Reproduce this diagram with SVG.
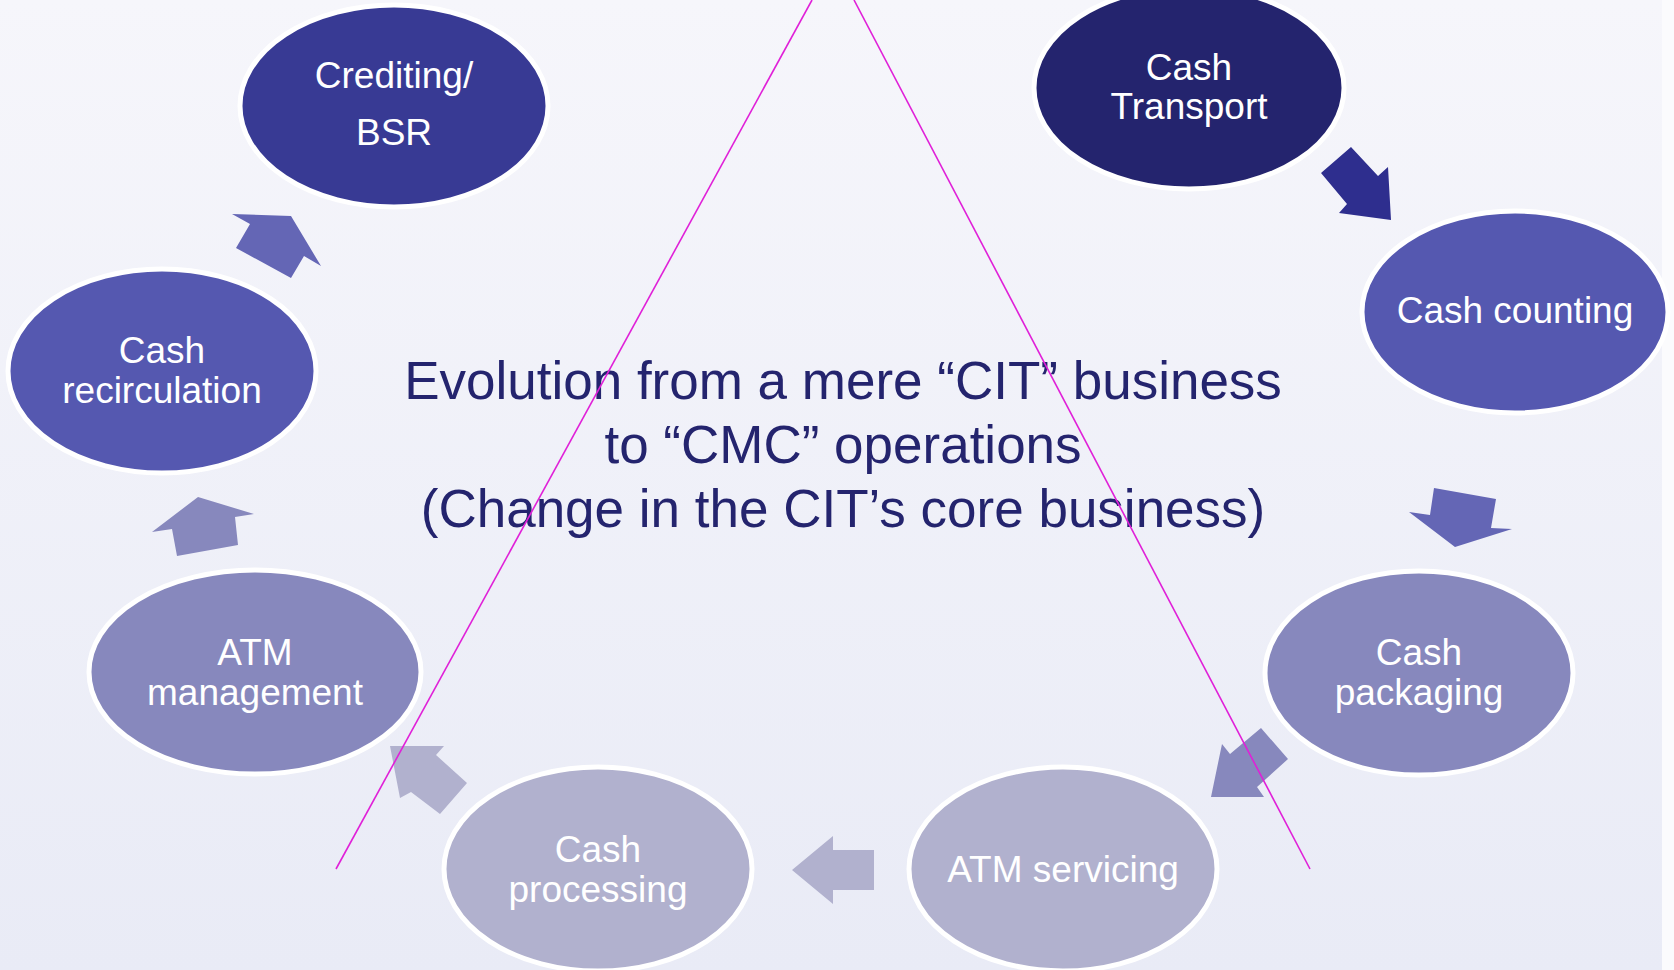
<svg xmlns="http://www.w3.org/2000/svg" width="1674" height="970" viewBox="0 0 1674 970">
<defs>
<linearGradient id="bg" x1="0" y1="0" x2="0" y2="1">
<stop offset="0" stop-color="#f6f6fb"/>
<stop offset="1" stop-color="#e9ebf6"/>
</linearGradient>
<style>
.node ellipse{stroke:#ffffff;stroke-width:5}
.lbl{font-family:"Liberation Sans",Arial,sans-serif;font-size:37px;fill:#ffffff;text-anchor:middle}
.title{font-family:"Liberation Sans",Arial,sans-serif;font-size:53px;fill:#24246e;text-anchor:middle}
.guide{stroke:#e020d8;stroke-width:1.6;fill:none}
</style>
</defs>
<rect x="0" y="0" width="1674" height="970" fill="#fbfbfd"/>
<rect x="0" y="0" width="1662" height="970" fill="url(#bg)"/>

<g id="connectors">
<polygon points="1351,147 1378,176 1388,167 1391,220 1339,213 1347,204 1321,173" fill="#2e2e8e"/>
<polygon points="1434,488 1496,499 1491,528 1512,529 1455,547 1409,512 1430,515" fill="#6466b5"/>
<polygon points="1261,728 1288,759 1257,787 1264,797 1211,797 1222,744 1230,754" fill="#8788bd"/>
<polygon points="874,850 874,890 833,890 833,904 792,870 833,836 833,850" fill="#b1b1ce"/>
<polygon points="390,746 444,746 436,755 467,783 440,814 411,792 400,798" fill="#b1b1ce"/>
<polygon points="198,497 254,514 235,517 238,545 177,556 172,529 152,532" fill="#8788bd"/>
<polygon points="232,214 291,216 321,266 304,256 291,278 236,248 250,224" fill="#6466b5"/>
</g>

<g id="node-crediting" class="node">
<ellipse cx="394" cy="106" rx="154" ry="101" fill="#383a94"/>
<text class="lbl" x="394" y="88">Crediting/</text>
<text class="lbl" x="394" y="145">BSR</text>
</g>
<g id="node-transport" class="node">
<ellipse cx="1189" cy="88" rx="155" ry="101" fill="#24246e"/>
<text class="lbl" x="1189" y="80">Cash</text>
<text class="lbl" x="1189" y="119">Transport</text>
</g>
<g id="node-counting" class="node">
<ellipse cx="1515" cy="312" rx="153" ry="101" fill="#5558b0"/>
<text class="lbl" x="1515" y="323">Cash counting</text>
</g>
<g id="node-packaging" class="node">
<ellipse cx="1419" cy="673" rx="154" ry="102" fill="#8788bd"/>
<text class="lbl" x="1419" y="665">Cash</text>
<text class="lbl" x="1419" y="705">packaging</text>
</g>
<g id="node-atmservicing" class="node">
<ellipse cx="1063" cy="869" rx="154" ry="102" fill="#b1b1ce"/>
<text class="lbl" x="1063" y="882">ATM servicing</text>
</g>
<g id="node-processing" class="node">
<ellipse cx="598" cy="869" rx="154" ry="102" fill="#b1b1ce"/>
<text class="lbl" x="598" y="862">Cash</text>
<text class="lbl" x="598" y="902">processing</text>
</g>
<g id="node-atmmanagement" class="node">
<ellipse cx="255" cy="672" rx="166" ry="102" fill="#8788bd"/>
<text class="lbl" x="255" y="665">ATM</text>
<text class="lbl" x="255" y="705">management</text>
</g>
<g id="node-recirculation" class="node">
<ellipse cx="162" cy="371" rx="154" ry="102" fill="#5558b0"/>
<text class="lbl" x="162" y="363">Cash</text>
<text class="lbl" x="162" y="403">recirculation</text>
</g>

<g id="title">
<text class="title" x="843" y="399">Evolution from a mere “CIT” business</text>
<text class="title" x="843" y="463">to “CMC” operations</text>
<text class="title" x="843" y="527">(Change in the CIT’s core business)</text>
</g>

<g id="guides">
<line class="guide" x1="812" y1="0" x2="336" y2="869"/>
<line class="guide" x1="854" y1="0" x2="1310" y2="869"/>
</g>
</svg>
